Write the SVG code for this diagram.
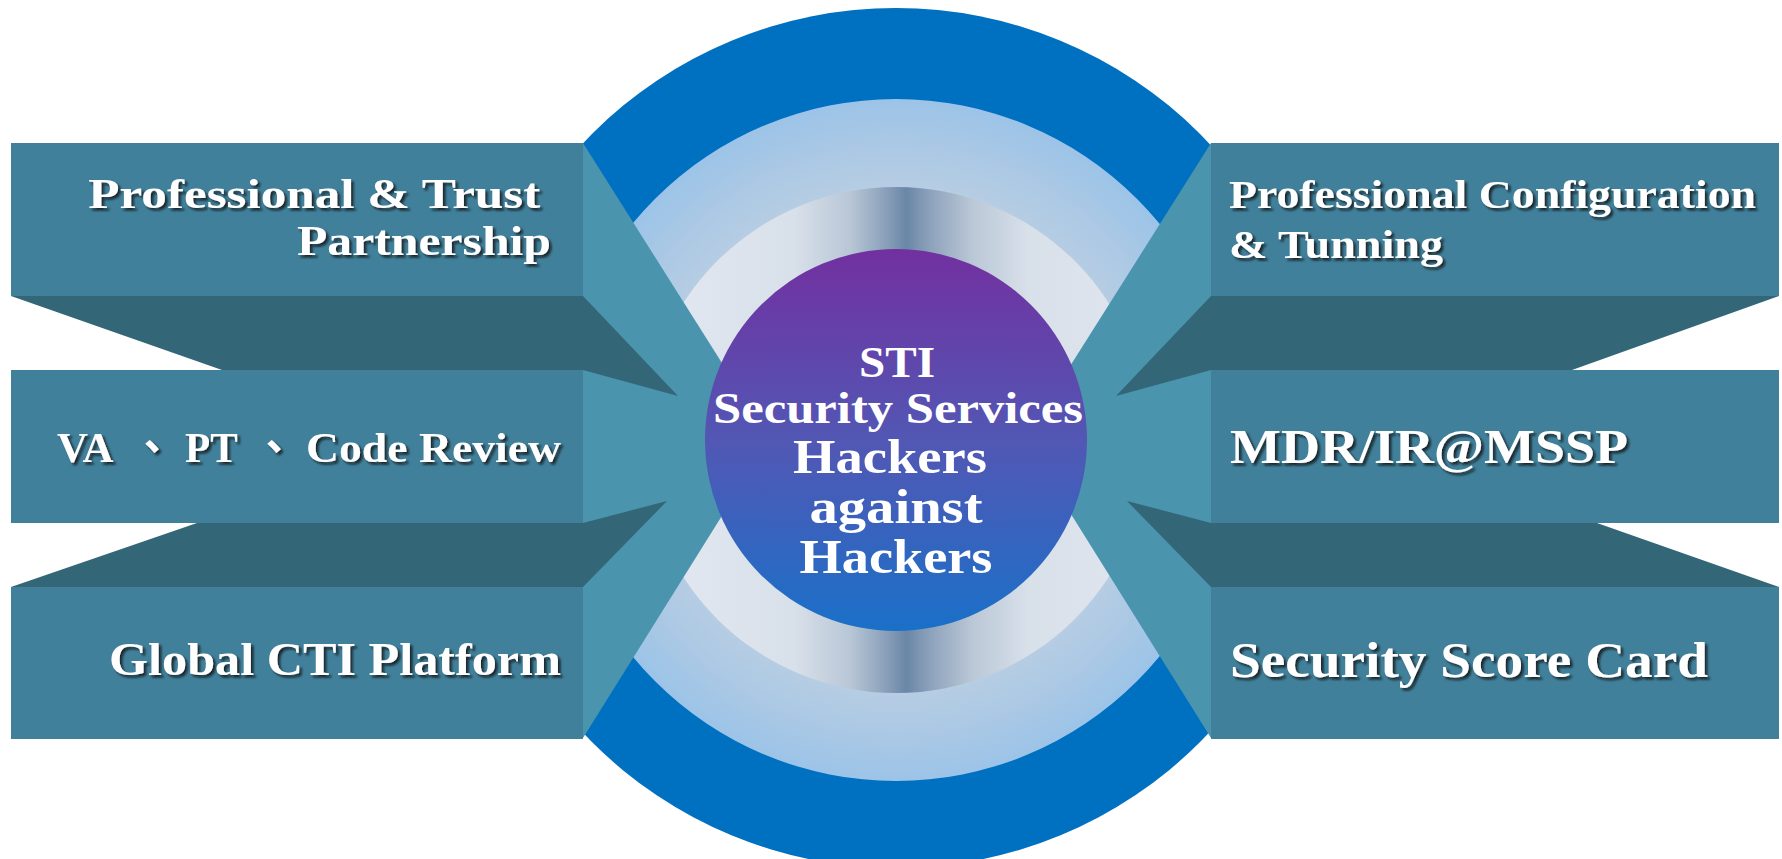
<svg xmlns="http://www.w3.org/2000/svg" width="1782" height="859" viewBox="0 0 1782 859">
  <defs>
    <radialGradient id="gLight" gradientUnits="userSpaceOnUse" cx="896" cy="440" r="341">
      <stop offset="0.74" stop-color="#b6cde3"/>
      <stop offset="0.87" stop-color="#aac8e5"/>
      <stop offset="1" stop-color="#9cc4e8"/>
    </radialGradient>
    <linearGradient id="gSilver" gradientUnits="userSpaceOnUse" x1="643" y1="0" x2="1149" y2="0">
      <stop offset="0" stop-color="#e3e9f1"/>
      <stop offset="0.3" stop-color="#d8e0ea"/>
      <stop offset="0.41" stop-color="#b8c6d6"/>
      <stop offset="0.48" stop-color="#8aa0ba"/>
      <stop offset="0.52" stop-color="#6a87a7"/>
      <stop offset="0.57" stop-color="#8ea3bc"/>
      <stop offset="0.65" stop-color="#bac7d6"/>
      <stop offset="0.76" stop-color="#d8e0ea"/>
      <stop offset="1" stop-color="#e0e6ee"/>
    </linearGradient>
    <linearGradient id="gHub" gradientUnits="userSpaceOnUse" x1="0" y1="249" x2="0" y2="631">
      <stop offset="0" stop-color="#7230a0"/>
      <stop offset="0.5" stop-color="#5257b4"/>
      <stop offset="1" stop-color="#1a70c8"/>
    </linearGradient>
    <filter id="shadow" x="-5%" y="-20%" width="110%" height="150%">
      <feDropShadow dx="2.5" dy="2.5" stdDeviation="1" flood-color="#111" flood-opacity="0.8"/>
    </filter>
  </defs>
  <style>
    .front { fill: #41809a; }
    .side { fill: #4a94ae; }
    .dark { fill: #336677; }
    .lbl { font-family: "Liberation Serif", "Noto Sans CJK TC", serif; font-weight: bold; fill: #ffffff; filter: url(#shadow); }
    .hubtxt { font-family: "Liberation Serif", serif; font-weight: bold; fill: #ffffff; text-anchor: middle; }
  </style>

  <rect x="0" y="0" width="1782" height="859" fill="#ffffff"/>

  <g id="hub-rings">
    <circle cx="896" cy="438" r="430" fill="#0070c0"/>
    <circle cx="896" cy="440" r="341" fill="url(#gLight)"/>
    <circle cx="896" cy="440" r="253" fill="url(#gSilver)"/>
  </g>

  <g id="connectors">
    <polygon class="side" points="583,143 770,439 583,738"/>
    <polygon class="side" points="1211,143 1024,439 1211,738"/>
  </g>

  <g id="box-professional-trust">
    <polygon class="dark" points="11,296 583,296 678,396 583,370 222,370"/>
    <rect class="front" x="11" y="143" width="572" height="153"/>
    <text class="lbl" font-size="43" text-anchor="end">
      <tspan x="551" y="208" textLength="452" lengthAdjust="spacingAndGlyphs">Professional &amp; Trust</tspan>
      <tspan x="551" y="255" textLength="254" lengthAdjust="spacingAndGlyphs">Partnership</tspan>
    </text>
  </g>

  <g id="box-va-pt">
    <rect class="front" x="11" y="370" width="572" height="153"/>
    <text class="lbl" font-size="42" y="462"><tspan x="57" textLength="54" lengthAdjust="spacingAndGlyphs">VA</tspan> <tspan x="131">、</tspan> <tspan x="185" textLength="52" lengthAdjust="spacingAndGlyphs">PT</tspan> <tspan x="253">、</tspan> <tspan x="306" textLength="255" lengthAdjust="spacingAndGlyphs">Code Review</tspan></text>
  </g>

  <g id="box-global-cti">
    <polygon class="dark" points="197,523 583,523 667,501 583,587 11,587"/>
    <rect class="front" x="11" y="587" width="572" height="152"/>
    <text class="lbl" font-size="47" text-anchor="end" x="561" y="675" textLength="452" lengthAdjust="spacingAndGlyphs">Global CTI Platform</text>
  </g>

  <g id="box-config-tuning">
    <polygon class="dark" points="1211,296 1779,296 1572,370 1211,370 1116,396"/>
    <rect class="front" x="1211" y="143" width="568" height="153"/>
    <text class="lbl" font-size="40">
      <tspan x="1229" y="208" textLength="527" lengthAdjust="spacingAndGlyphs">Professional Configuration</tspan>
      <tspan x="1229" y="258" textLength="214" lengthAdjust="spacingAndGlyphs">&amp; Tunning</tspan>
    </text>
  </g>

  <g id="box-mdr">
    <rect class="front" x="1211" y="370" width="568" height="153"/>
    <text class="lbl" font-size="48" x="1230" y="463" textLength="398" lengthAdjust="spacingAndGlyphs">MDR/IR@MSSP</text>
  </g>

  <g id="box-scorecard">
    <polygon class="dark" points="1597,523 1211,523 1127,501 1211,587 1779,587"/>
    <rect class="front" x="1211" y="587" width="568" height="152"/>
    <text class="lbl" font-size="50" x="1230" y="677" textLength="478" lengthAdjust="spacingAndGlyphs">Security Score Card</text>
  </g>

  <g id="hub">
    <circle cx="896" cy="440" r="191" fill="url(#gHub)"/>
    <text class="hubtxt" font-size="44" x="897" y="377" textLength="76" lengthAdjust="spacingAndGlyphs">STI</text>
    <text class="hubtxt" font-size="44" x="898" y="423" textLength="370" lengthAdjust="spacingAndGlyphs">Security Services</text>
    <text class="hubtxt" font-size="48" x="890" y="473" textLength="194" lengthAdjust="spacingAndGlyphs">Hackers</text>
    <text class="hubtxt" font-size="48" x="896" y="523" textLength="173" lengthAdjust="spacingAndGlyphs">against</text>
    <text class="hubtxt" font-size="48" x="896" y="573" textLength="193" lengthAdjust="spacingAndGlyphs">Hackers</text>
  </g>
</svg>
